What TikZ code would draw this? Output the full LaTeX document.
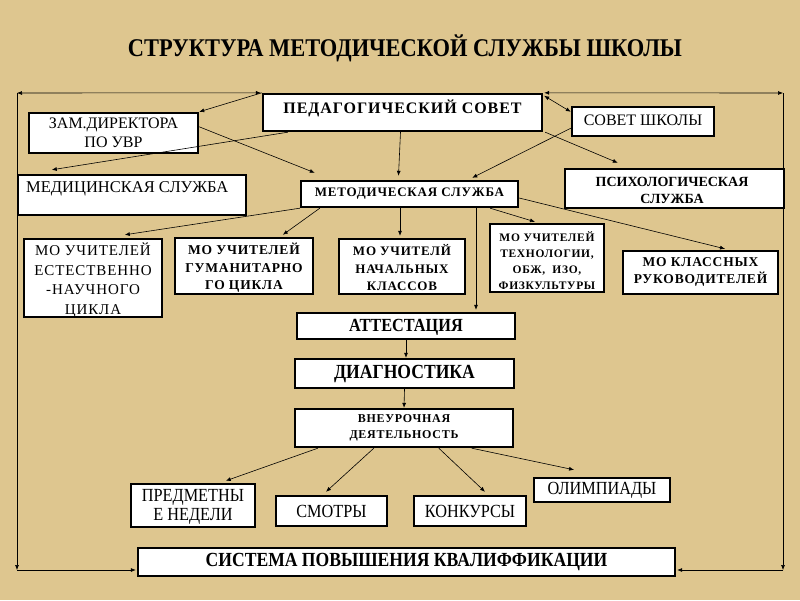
\documentclass[tikz,border=0pt]{standalone}
\usepackage{fontspec}
\setmainfont{Liberation Serif}
\newfontfamily\cond[FakeStretch=0.88]{Liberation Serif}
\newfontfamily\spc[LetterSpace=6]{Liberation Serif}
\usetikzlibrary{arrows.meta}
\definecolor{paper}{RGB}{222,198,143}
\begin{document}
\begin{tikzpicture}[x=1pt,y=-1pt,
  box/.style={draw=black, line width=2.4pt, fill=white, inner sep=0pt},
  lbl/.style={inner sep=0pt, align=center, text=black},
  con/.style={line width=0.6pt, -{Latex[length=5pt,width=4pt]}},
  dcon/.style={line width=0.6pt, {Latex[length=5pt,width=4pt]}-{Latex[length=5pt,width=4pt]}},
  bcon/.style={line width=0.6pt}
]
\fill[paper] (0,0) rectangle (800,600);
\useasboundingbox (0,0) rectangle (800,600);

% title
\node[lbl, font=\cond\bfseries\fontsize{25.5}{27}\selectfont] (title) at (405,48) {СТРУКТУРА МЕТОДИЧЕСКОЙ СЛУЖБЫ ШКОЛЫ};

% boxes
\node[box, minimum width=279pt, minimum height=37pt] (ped) at (402.5,112.5) {};
\node[box, minimum width=169pt, minimum height=40pt] (zam) at (113.5,133) {};
\node[box, minimum width=142pt, minimum height=29pt] (sovsh) at (643,121.5) {};
\node[box, minimum width=228pt, minimum height=40pt] (med) at (132,195) {};
\node[box, minimum width=217pt, minimum height=26pt] (met) at (409.5,194) {};
\node[box, minimum width=219pt, minimum height=39pt] (psy) at (674.5,188.5) {};
\node[box, minimum width=138pt, minimum height=78pt] (est) at (93,278) {};
\node[box, minimum width=138pt, minimum height=56pt] (gum) at (244,266) {};
\node[box, minimum width=126pt, minimum height=55pt] (nach) at (402,266.5) {};
\node[box, minimum width=114pt, minimum height=68pt] (tech) at (547,258) {};
\node[box, minimum width=155pt, minimum height=43pt] (kl) at (700.5,272.5) {};
\node[box, minimum width=218pt, minimum height=26pt] (att) at (406,326) {};
\node[box, minimum width=219pt, minimum height=29pt] (diag) at (404.5,373.5) {};
\node[box, minimum width=218pt, minimum height=38pt] (vne) at (404,428) {};
\node[box, minimum width=124pt, minimum height=43pt] (pred) at (193,505.5) {};
\node[box, minimum width=111pt, minimum height=30pt] (smo) at (331.5,511) {};
\node[box, minimum width=112pt, minimum height=30pt] (kon) at (470,511) {};
\node[box, minimum width=136pt, minimum height=24pt] (oli) at (602,490) {};
\node[box, minimum width=537pt, minimum height=28pt] (sys) at (406.5,562) {};

% texts
\node[lbl, font=\spc\bfseries\fontsize{16}{18}\selectfont] (tped) at (ped.center |- 0,108) {ПЕДАГОГИЧЕСКИЙ СОВЕТ};
\node[lbl, font=\fontsize{16}{19}\selectfont] (tzam) at (113.5,133) {ЗАМ.ДИРЕКТОРА\\ПО УВР};
\node[lbl, font=\fontsize{16}{18}\selectfont] (tsovsh) at (643,120) {СОВЕТ ШКОЛЫ};
\node[lbl, font=\fontsize{16.5}{18}\selectfont, anchor=west] (tmed) at (26,189) {МЕДИЦИНСКАЯ СЛУЖБА};
\node[lbl, font=\spc\bfseries\fontsize{13}{15}\selectfont] (tmet) at (409.5,194) {МЕТОДИЧЕСКАЯ СЛУЖБА};
\node[lbl, font=\bfseries\fontsize{14}{17}\selectfont] (tpsy) at (672,190) {ПСИХОЛОГИЧЕСКАЯ\\СЛУЖБА};
\node[lbl, font=\spc\fontsize{15}{19.5}\selectfont] (test) at (93,280) {МО УЧИТЕЛЕЙ\\ЕСТЕСТВЕННО\\-НАУЧНОГО\\ЦИКЛА};
\node[lbl, font=\spc\bfseries\fontsize{13.5}{17.5}\selectfont] (tgum) at (244,268) {МО УЧИТЕЛЕЙ\\ГУМАНИТАРНО\\ГО ЦИКЛА};
\node[lbl, font=\spc\bfseries\fontsize{13}{17.5}\selectfont] (tnach) at (402,268) {МО УЧИТЕЛЙ\\НАЧАЛЬНЫХ\\КЛАССОВ};
\node[lbl, font=\spc\bfseries\fontsize{11.5}{16}\selectfont] (ttech) at (547,261) {МО УЧИТЕЛЕЙ\\ТЕХНОЛОГИИ,\\ОБЖ, \ ИЗО,\\ФИЗКУЛЬТУРЫ};
\node[lbl, font=\spc\bfseries\fontsize{13.5}{16.5}\selectfont] (tkl) at (700.5,272) {МО КЛАССНЫХ\\РУКОВОДИТЕЛЕЙ};
\node[lbl, font=\cond\bfseries\fontsize{18.5}{20}\selectfont] (tatt) at (406,327) {АТТЕСТАЦИЯ};
\node[lbl, font=\cond\bfseries\fontsize{20}{22}\selectfont] (tdiag) at (404.5,374) {ДИАГНОСТИКА};
\node[lbl, font=\spc\bfseries\fontsize{12}{16}\selectfont] (tvne) at (404,428) {ВНЕУРОЧНАЯ\\ДЕЯТЕЛЬНОСТЬ};
\node[lbl, font=\cond\fontsize{18.5}{19}\selectfont] (tpred) at (193,507) {ПРЕДМЕТНЫ\\Е НЕДЕЛИ};
\node[lbl, font=\cond\fontsize{18.5}{19}\selectfont] (tsmo) at (331.5,511) {СМОТРЫ};
\node[lbl, font=\cond\fontsize{18.5}{19}\selectfont] (tkon) at (470,511) {КОНКУРСЫ};
\node[lbl, font=\cond\fontsize{18.5}{19}\selectfont] (toli) at (602,490) {ОЛИМПИАДЫ};
\node[lbl, font=\cond\bfseries\fontsize{20}{22}\selectfont] (tsys) at (406.5,562) {СИСТЕМА ПОВЫШЕНИЯ КВАЛИФФИКАЦИИ};

% frame coordinates
\coordinate (tl) at (17,93);
\coordinate (tr) at (783,93);
\coordinate (bl) at (17,570);
\coordinate (br) at (783,570);

% frame connectors
\draw[dcon] (tl) -- ([xshift=-1pt]ped.north west);
\draw[dcon] ([xshift=1pt]ped.north east) -- (tr);
\draw[con] (tl) -- (bl);
\draw[con] (tr) -- (br);
\draw[con] (bl) -- ([xshift=-1pt]sys.west |- bl);
\draw[con] (br) -- ([xshift=1pt]sys.east |- br);

% top level connectors
\draw[con] (ped.north west) -- (zam.north east);
\draw[con] ([xshift=26pt]ped.south west) -- ([xshift=35pt,yshift=4pt]med.north west);
\draw[con] ([yshift=-15pt]zam.north east) -- ([xshift=15pt,yshift=7pt]met.north west);
\draw[con] ([xshift=-2pt]ped.south) -- ([xshift=-11pt,yshift=4pt]met.north);
\draw[con] ([yshift=9pt]sovsh.south west) -- ([xshift=-47pt,yshift=2pt]met.north east);
\draw[con] ([xshift=2pt]ped.south east) -- ([xshift=54pt,yshift=5pt]psy.north west);
\draw[dcon] ([xshift=1pt,yshift=-3pt]ped.north east) -- ([yshift=-6pt]sovsh.north west);

% methodical service connectors
\draw[con] (met.south west) -- ([xshift=102pt,yshift=3pt]est.north west);
\draw[con] ([xshift=20pt]met.south west) -- ([xshift=109pt,yshift=2pt]gum.north west);
\draw[con] ([xshift=-9.5pt]met.south) -- ([xshift=-2pt,yshift=2pt]nach.north);
\draw[con] ([xshift=66.5pt]met.south) -- ([xshift=70pt,yshift=2pt]att.north);
\draw[con] ([xshift=-29pt]met.south east) -- ([xshift=-12pt,yshift=1pt]tech.north);
\draw[con] ([yshift=-4pt]met.east) -- ([xshift=24.5pt,yshift=1pt]kl.north);

% lower chain
\draw[con] (att.south) -- (att.south |- diag.north);
\draw[con] (diag.south) -- (vne.north);
\draw[con] ([xshift=24pt]vne.south west) -- ([xshift=96pt,yshift=2pt]pred.north west);
\draw[con] ([xshift=80pt]vne.south west) -- ([xshift=-5.5pt,yshift=3pt]smo.north);
\draw[con] ([xshift=145pt]vne.south west) -- ([xshift=15pt,yshift=3pt]kon.north);
\draw[con] ([xshift=178pt]vne.south west) -- ([xshift=-28pt,yshift=7pt]oli.north);
\end{tikzpicture}
\end{document}
